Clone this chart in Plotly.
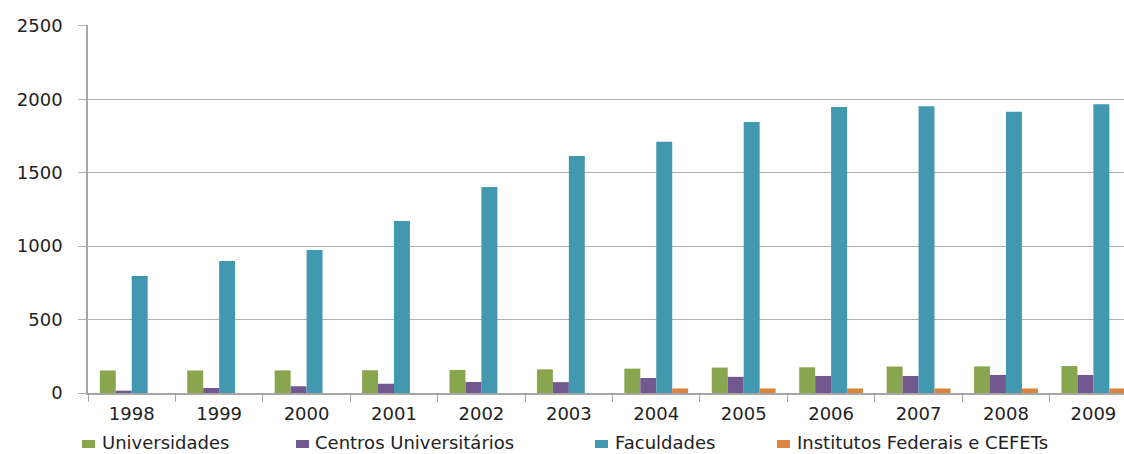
import plotly.graph_objects as go

years = ["1998", "1999", "2000", "2001", "2002", "2003", "2004", "2005", "2006", "2007", "2008", "2009"]
universidades = [153, 153, 154, 155, 157, 161, 166, 173, 175, 180, 181, 184]
centros = [16, 34, 46, 63, 75, 74, 102, 110, 116, 116, 123, 123]
faculdades = [797, 899, 973, 1171, 1403, 1614, 1710, 1845, 1947, 1952, 1914, 1966]
institutos = [0, 0, 0, 0, 0, 0, 31, 31, 31, 31, 31, 31]

series = [
    ("Universidades", universidades, "#89A54E"),
    ("Centros Universitários", centros, "#71588F"),
    ("Faculdades", faculdades, "#4198AF"),
    ("Institutos Federais e CEFETs", institutos, "#DB843D"),
]

W, H = 1124, 454
ML, MR, MT, MB = 88, 0, 25, 61
PW, PH = W - ML - MR, H - MT - MB

fig = go.Figure()
for name, vals, color in series:
    fig.add_trace(go.Bar(x=years, y=vals, name=name, showlegend=False,
                         marker=dict(color=color, line=dict(width=0))))

# manual legend (pixel layout converted to paper coords)
legend_marker_px = [82, 296, 595, 777]
legend_text_px = [101, 314, 614, 796]
legend_marker_y_px = 444
legend_text_bottom_px = 454

def px_x(p):
    return (p - ML) / PW

def px_y(p):
    return (H - MB - p) / PH

shapes = []
annotations = []
for (name, _, color), mx, tx in zip(series, legend_marker_px, legend_text_px):
    shapes.append(dict(type="rect", xref="paper", yref="paper",
                       x0=px_x(mx), x1=px_x(mx + 13),
                       y0=px_y(legend_marker_y_px + 4), y1=px_y(legend_marker_y_px - 4),
                       fillcolor=color, line=dict(width=0), layer="above"))
    annotations.append(dict(text=name, xref="paper", yref="paper",
                            x=px_x(tx), y=px_y(legend_text_bottom_px), xanchor="left", yanchor="bottom",
                            showarrow=False, borderpad=0,
                            font=dict(family="DejaVu Sans", size=18, color="#222222")))

font = dict(family="DejaVu Sans", size=18, color="#222222")
fig.update_layout(
    width=W, height=H,
    margin=dict(l=ML, r=MR, t=MT, b=MB, autoexpand=False),
    plot_bgcolor="white", paper_bgcolor="white",
    barmode="group", bargap=0.27, bargroupgap=0,
    font=font,
    showlegend=False,
    shapes=shapes,
    annotations=annotations,
)
fig.update_xaxes(
    type="category", range=[-0.5, 11.35],
    showline=True, linecolor="#A6A6A6", linewidth=1.5,
    ticks="outside", tickson="boundaries", ticklen=7, tickcolor="#A6A6A6",
    showgrid=False, tickfont=font, ticklabelstandoff=4,
)
fig.update_yaxes(
    range=[0, 2505], tickvals=[0, 500, 1000, 1500, 2000, 2500],
    showline=True, linecolor="#A6A6A6", linewidth=1.5,
    showgrid=True, gridcolor="#B0B0B0", gridwidth=1,
    ticks="outside", ticklen=8, tickcolor="#B0B0B0",
    tickfont=font, zeroline=False, ticklabelstandoff=12,
)
fig.write_html("out.html")
